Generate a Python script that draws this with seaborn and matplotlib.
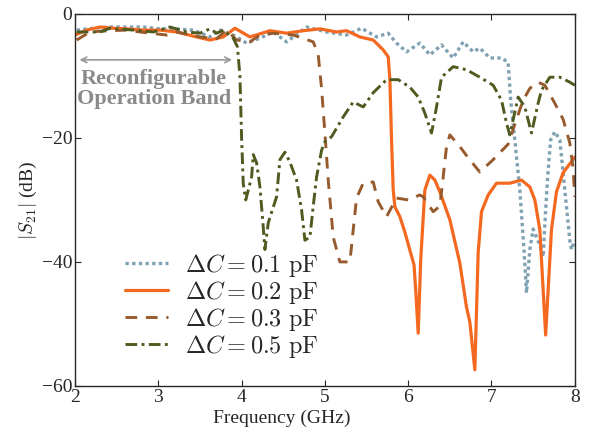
import pandas as pd
import matplotlib
matplotlib.use("Agg")
import matplotlib.pyplot as plt
import seaborn as sns

# S21 readings for each capacitance step
f_01 = [2.02, 2.22, 2.42, 2.62, 2.82, 3.02, 3.22, 3.42, 3.62, 3.74, 3.9, 4.06, 4.22, 4.38, 4.54,
        4.78, 5.02, 5.26, 5.44, 5.62, 5.76, 5.86, 5.98, 6.14, 6.26, 6.4, 6.54, 6.66, 6.78, 6.86,
        6.98, 7.12, 7.2, 7.23, 7.28, 7.34, 7.39, 7.42, 7.46, 7.5, 7.58, 7.62, 7.65, 7.68, 7.71,
        7.76, 7.82, 7.88, 7.94, 7.96, 8.0]
s_01 = [-2.6, -2.3, -2.1, -2.1, -2.1, -2.4, -2.4, -2.6, -3.7, -2.6, -3.4, -4.7, -3.9, -2.9, -4.5,
        -2.1, -2.9, -3.4, -2.3, -3.7, -3.1, -4.7, -6.1, -4.7, -6.6, -5.0, -7.1, -4.5, -6.1, -5.5,
        -7.1, -7.1, -7.8, -13.9, -20.3, -28.4, -38.0, -45.0, -38.0, -34.7, -37.3, -39.2, -31.6, -25.2, -20.3,
        -19.0, -20.3, -28.4, -36.5, -38.0, -36.5]

f_02 = [2.0, 2.14, 2.3, 2.46, 2.62, 2.82, 3.02, 3.22, 3.46, 3.62, 3.78, 3.92, 4.1, 4.22, 4.34,
        4.54, 4.74, 4.94, 5.14, 5.26, 5.42, 5.58, 5.7, 5.76, 5.78, 5.8, 5.82, 5.84, 5.9, 5.96,
        6.02, 6.07, 6.09, 6.12, 6.15, 6.2, 6.26, 6.32, 6.38, 6.5, 6.62, 6.7, 6.74, 6.8, 6.84,
        6.88, 6.96, 7.06, 7.22, 7.36, 7.46, 7.52, 7.58, 7.65, 7.72, 7.78, 7.86, 8.0]
s_02 = [-3.4, -2.6, -2.1, -2.3, -2.4, -2.6, -2.6, -2.9, -3.7, -4.2, -3.7, -2.3, -3.7, -3.2, -2.7,
        -3.1, -2.7, -2.4, -2.9, -2.7, -3.7, -4.2, -5.8, -6.9, -10.6, -20.3, -28.4, -31.1, -32.7, -35.2,
        -38.1, -40.5, -44.5, -51.5, -39.7, -28.4, -26.0, -26.8, -28.7, -33.2, -40.2, -47.3, -49.7, -57.4, -38.5,
        -31.9, -29.2, -27.3, -27.3, -26.8, -27.9, -30.0, -34.8, -51.8, -34.8, -28.7, -25.6, -23.1]

f_03 = [2.02, 2.18, 2.4, 2.62, 2.78, 3.1, 3.22, 3.5, 3.7, 3.82, 3.94, 4.1, 4.22, 4.38, 4.62,
        4.86, 4.92, 4.96, 5.0, 5.04, 5.1, 5.18, 5.3, 5.34, 5.38, 5.46, 5.58, 5.64, 5.74, 5.86,
        6.0, 6.14, 6.18, 6.3, 6.38, 6.42, 6.46, 6.5, 6.62, 6.72, 6.86, 7.02, 7.2, 7.3, 7.38,
        7.46, 7.56, 7.64, 7.76, 7.86, 7.94, 7.98, 8.0]
s_03 = [-4.2, -2.9, -2.7, -2.6, -2.9, -3.4, -2.9, -3.7, -4.0, -2.6, -4.2, -4.5, -3.4, -3.1, -3.4,
        -4.5, -6.6, -12.0, -19.2, -26.8, -36.0, -40.0, -40.0, -34.8, -29.7, -27.3, -27.1, -30.3, -32.7, -29.7,
        -30.0, -29.2, -29.5, -31.9, -31.0, -26.3, -21.4, -19.5, -21.4, -23.2, -25.5, -23.5, -21.0, -17.0, -13.9,
        -12.0, -11.0, -11.5, -14.4, -17.0, -20.8, -25.0, -29.5]

f_05 = [2.02, 2.3, 2.42, 2.7, 2.94, 3.14, 3.34, 3.5, 3.62, 3.7, 3.78, 3.9, 3.95, 3.98, 4.0,
        4.02, 4.05, 4.12, 4.14, 4.18, 4.22, 4.26, 4.28, 4.32, 4.36, 4.42, 4.46, 4.52, 4.58, 4.66,
        4.72, 4.76, 4.82, 4.86, 4.9, 4.96, 5.0, 5.08, 5.22, 5.34, 5.46, 5.58, 5.74, 5.88, 6.02,
        6.12, 6.2, 6.28, 6.34, 6.4, 6.54, 6.7, 6.86, 7.02, 7.12, 7.18, 7.22, 7.32, 7.4, 7.48,
        7.56, 7.6, 7.7, 7.82, 7.94, 8.0]
s_05 = [-2.9, -2.9, -2.3, -2.6, -2.9, -2.1, -2.9, -3.1, -2.4, -3.1, -2.6, -3.9, -5.3, -10.0, -20.0,
        -27.4, -30.0, -26.3, -22.7, -24.0, -27.9, -34.4, -38.0, -33.7, -32.0, -29.5, -23.5, -22.3, -23.9, -26.8,
        -31.6, -36.5, -36.0, -31.0, -26.3, -22.0, -20.6, -19.8, -16.6, -14.2, -15.0, -12.7, -10.6, -10.6, -11.8,
        -13.4, -16.0, -19.2, -15.0, -10.2, -8.5, -9.0, -10.2, -11.5, -13.9, -17.6, -19.5, -13.4, -15.0, -19.2,
        -14.4, -12.3, -10.2, -10.2, -11.0, -11.5]

labels = [r"$\Delta C = 0.1\ \mathrm{pF}$", r"$\Delta C = 0.2\ \mathrm{pF}$",
          r"$\Delta C = 0.3\ \mathrm{pF}$", r"$\Delta C = 0.5\ \mathrm{pF}$"]

sns.set_style("ticks")
plt.rcParams["font.family"] = ["Liberation Serif", "DejaVu Serif"]
plt.rcParams["mathtext.fontset"] = "cm"

fig = plt.figure(figsize=(6.0, 4.37), dpi=100)
ax = fig.add_axes([0.125, 0.117, 0.833, 0.851])

sns.lineplot(x=f_01, y=s_01, ax=ax, color="#7fa2b3", lw=2.4, linestyle=(0, (1, 1)),
             label=labels[0], estimator=None, sort=False)
sns.lineplot(x=f_02, y=s_02, ax=ax, color="#f4691f", lw=2.3, linestyle="-",
             label=labels[1], estimator=None, sort=False)
sns.lineplot(x=f_03, y=s_03, ax=ax, color="#975a2c", lw=2.1, linestyle=(0, (4, 3)),
             label=labels[2], estimator=None, sort=False)
sns.lineplot(x=f_05, y=s_05, ax=ax, color="#4f5a1f", lw=2.1, linestyle=(0, (4, 1.5, 1, 1.5)),
             label=labels[3], estimator=None, sort=False)

# band annotation
ax.annotate("", xy=(2.02, -7.4), xytext=(3.92, -7.4),
            arrowprops=dict(arrowstyle="<->", color="#999999", lw=1.2))
ax.text(2.95, -8.9, "Reconfigurable\nOperation Band", ha="center", va="top",
        fontsize=16, fontweight="bold", color="#8a8a8a", linespacing=1.0)

ax.set_xlim(2, 8)
ax.set_ylim(-60, 0)
ax.set_xticks([2, 3, 4, 5, 6, 7, 8])
ax.set_yticks([0, -20, -40, -60])
ax.tick_params(direction="in", top=True, right=True, length=4, labelsize=14, width=0.8, pad=2)
for sp in ax.spines.values():
    sp.set_linewidth(1.0)
ax.set_xlabel("Frequency (GHz)", fontsize=14, labelpad=1)
ax.xaxis.set_label_coords(0.414, -0.065)
ax.set_ylabel(r"$|S_{21}|$ (dB)", fontsize=14, labelpad=2)

ax.legend(loc="lower left", bbox_to_anchor=(0.065, 0.025), frameon=False, fontsize=17.5,
          handlelength=1.8, labelspacing=0.0, handletextpad=0.7, borderpad=0.2)

fig.savefig("out.png", dpi=100)
